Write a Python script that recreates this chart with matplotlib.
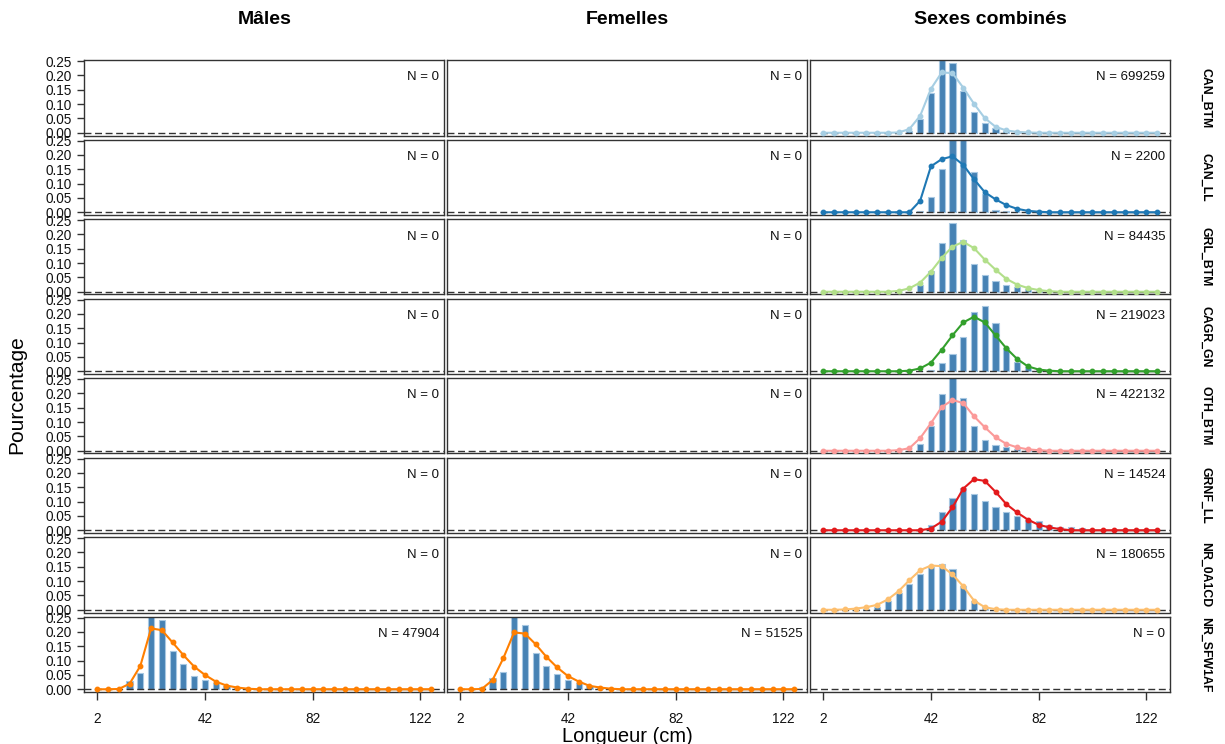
import numpy as np
import matplotlib

matplotlib.use("Agg")
import matplotlib.pyplot as plt

plt.rcParams["font.family"] = ["Liberation Sans", "DejaVu Sans"]

# length classes (cm), one bar / curve point every 4 cm
lengths = np.arange(2, 127, 4)

columns = ["Mâles", "Femelles", "Sexes combinés"]
fleets = ["CAN_BTM", "CAN_LL", "GRL_BTM", "CAGR_GN", "OTH_BTM", "GRNF_LL", "NR_0A1CD", "NR_SFW1AF"]
fleet_colors = ["#A6CEE3", "#1F78B4", "#B2DF8A", "#33A02C", "#FB9A99", "#E31A1C", "#FDBF6F", "#FF7F00"]

# sample sizes per (fleet, column)
n_males = [0, 0, 0, 0, 0, 0, 0, 47904]
n_females = [0, 0, 0, 0, 0, 0, 0, 51525]
n_combined = [699259, 2200, 84435, 219023, 422132, 14524, 180655, 0]

# observed proportions by length class (only non-zero classes listed)
can_btm_bars = {34: 0.006, 38: 0.048, 42: 0.139, 46: 0.255, 50: 0.242, 54: 0.147,
                58: 0.072, 62: 0.035, 66: 0.015, 70: 0.006, 74: 0.002}
can_btm_fit = {30: 0.001, 34: 0.013, 38: 0.059, 42: 0.153, 46: 0.21, 50: 0.208, 54: 0.157,
               58: 0.101, 62: 0.051, 66: 0.021, 70: 0.008, 74: 0.003, 78: 0.001}

can_ll_bars = {38: 0.006, 42: 0.053, 46: 0.151, 50: 0.28, 54: 0.27, 58: 0.139,
               62: 0.065, 66: 0.009, 70: 0.003}
can_ll_fit = {38: 0.04, 42: 0.16, 46: 0.185, 50: 0.195, 54: 0.165, 58: 0.115, 62: 0.07,
              66: 0.045, 70: 0.025, 74: 0.012, 78: 0.005, 82: 0.002}

grl_btm_bars = {38: 0.022, 42: 0.074, 46: 0.17, 50: 0.241, 54: 0.181, 58: 0.098, 62: 0.06,
                66: 0.039, 70: 0.025, 74: 0.016, 78: 0.011, 82: 0.004}
grl_btm_fit = {30: 0.003, 34: 0.012, 38: 0.032, 42: 0.07, 46: 0.118, 50: 0.157, 54: 0.174,
               58: 0.152, 62: 0.112, 66: 0.077, 70: 0.045, 74: 0.025, 78: 0.013, 82: 0.006,
               86: 0.002}

cagr_gn_bars = {42: 0.005, 46: 0.028, 50: 0.059, 54: 0.12, 58: 0.205, 62: 0.227, 66: 0.167,
                70: 0.08, 74: 0.034, 78: 0.016, 82: 0.006}
cagr_gn_fit = {34: 0.002, 38: 0.01, 42: 0.03, 46: 0.075, 50: 0.125, 54: 0.17, 58: 0.19,
               62: 0.17, 66: 0.125, 70: 0.08, 74: 0.043, 78: 0.017, 82: 0.006, 86: 0.002}

oth_btm_bars = {38: 0.024, 42: 0.086, 46: 0.198, 50: 0.27, 54: 0.184, 58: 0.086, 62: 0.039,
                66: 0.019, 70: 0.012, 74: 0.006, 78: 0.003}
oth_btm_fit = {30: 0.002, 34: 0.009, 38: 0.044, 42: 0.096, 46: 0.152, 50: 0.177, 54: 0.166,
               58: 0.12, 62: 0.082, 66: 0.047, 70: 0.024, 74: 0.012, 78: 0.005, 82: 0.002}

grnf_ll_bars = {42: 0.018, 46: 0.062, 50: 0.114, 54: 0.147, 58: 0.126, 62: 0.103, 66: 0.082,
                70: 0.064, 74: 0.048, 78: 0.037, 82: 0.031, 86: 0.019, 90: 0.013, 94: 0.01,
                98: 0.007}
grnf_ll_fit = {42: 0.006, 46: 0.03, 50: 0.08, 54: 0.145, 58: 0.178, 62: 0.172, 66: 0.134,
               70: 0.091, 74: 0.062, 78: 0.037, 82: 0.019, 86: 0.01, 90: 0.004}

nr_0a1cd_bars = {18: 0.003, 22: 0.01, 26: 0.03, 30: 0.057, 34: 0.09, 38: 0.123, 42: 0.148,
                 46: 0.16, 50: 0.142, 54: 0.082, 58: 0.032, 62: 0.009}
nr_0a1cd_fit = {10: 0.001, 14: 0.004, 18: 0.009, 22: 0.017, 26: 0.036, 30: 0.065, 34: 0.103,
                38: 0.138, 42: 0.154, 46: 0.152, 50: 0.123, 54: 0.082, 58: 0.032, 62: 0.009,
                66: 0.002}

sfw_male_bars = {14: 0.03, 18: 0.056, 22: 0.27, 26: 0.243, 30: 0.134, 34: 0.087, 38: 0.047,
                 42: 0.032, 46: 0.021, 50: 0.012, 54: 0.005}
sfw_male_fit = {10: 0.001, 14: 0.019, 18: 0.081, 22: 0.212, 26: 0.206, 30: 0.163, 34: 0.119,
                38: 0.079, 42: 0.05, 46: 0.027, 50: 0.013, 54: 0.006, 58: 0.002}

sfw_female_bars = {10: 0.007, 14: 0.038, 18: 0.059, 22: 0.27, 26: 0.223, 30: 0.127, 34: 0.081,
                   38: 0.053, 42: 0.032, 46: 0.021, 50: 0.012, 54: 0.005}
sfw_female_fit = {10: 0.001, 14: 0.032, 18: 0.108, 22: 0.198, 26: 0.194, 30: 0.157, 34: 0.113,
                  38: 0.076, 42: 0.046, 46: 0.027, 50: 0.012, 54: 0.006, 58: 0.002}

# (row, col) -> (observed, fitted)
panels = {
    (0, 2): (can_btm_bars, can_btm_fit),
    (1, 2): (can_ll_bars, can_ll_fit),
    (2, 2): (grl_btm_bars, grl_btm_fit),
    (3, 2): (cagr_gn_bars, cagr_gn_fit),
    (4, 2): (oth_btm_bars, oth_btm_fit),
    (5, 2): (grnf_ll_bars, grnf_ll_fit),
    (6, 2): (nr_0a1cd_bars, nr_0a1cd_fit),
    (7, 0): (sfw_male_bars, sfw_male_fit),
    (7, 1): (sfw_female_bars, sfw_female_fit),
}


def on_grid(values):
    return np.array([values.get(int(x), 0.0) for x in lengths])


W, H = 1225, 744
fig = plt.figure(figsize=(W / 100, H / 100), dpi=100)
fig.patch.set_facecolor("white")

col_left = [84.3, 447.3, 810.3]
col_w = 360.0
row_top0, row_pitch, row_h = 60.0, 79.5, 75.5
edge = "#333333"

for r, fleet in enumerate(fleets):
    for c in range(3):
        top = row_top0 + r * row_pitch
        ax = fig.add_axes([col_left[c] / W, 1 - (top + row_h) / H, col_w / W, row_h / H])
        ax.set_xlim(-2.8, 130.9)
        ax.set_ylim(-0.0095, 0.2535)
        for sp in ax.spines.values():
            sp.set_color(edge)
            sp.set_linewidth(1.0)

        if (r, c) in panels:
            bars, fit = panels[(r, c)]
            ax.bar(lengths, on_grid(bars), width=2.3, color="#4682B4",
                   edgecolor="#A8C8E2", linewidth=0.8, zorder=2)
        ax.axhline(0, color="#333333", lw=1.0, dashes=(5, 2.6), zorder=3)
        if (r, c) in panels:
            ax.plot(lengths, on_grid(fit), color=fleet_colors[r], lw=1.5,
                    marker="o", ms=3.2, zorder=4)

        n = [n_males, n_females, n_combined][c][r]
        ax.text(1 - 5 / col_w, 1 - 17.5 / row_h, f"N = {n}", transform=ax.transAxes,
                ha="right", va="center", fontsize=9.5, color="#111111")

        ax.set_yticks([0, 0.05, 0.10, 0.15, 0.20, 0.25])
        ax.set_xticks([2, 42, 82, 122])
        if c == 0:
            ax.set_yticklabels(["0.00", "0.05", "0.10", "0.15", "0.20", "0.25"])
            ax.tick_params(axis="y", length=5, width=1, color=edge, pad=4,
                           labelsize=9.8, labelcolor="#111111")
        else:
            ax.tick_params(axis="y", left=False, labelleft=False)
        if r == len(fleets) - 1:
            ax.tick_params(axis="x", length=5.5, width=1, color=edge, pad=9,
                           labelsize=9.8, labelcolor="#111111")
        else:
            ax.tick_params(axis="x", bottom=False, labelbottom=False)

        if r == 0:
            ax.set_title(columns[c], fontsize=14, fontweight="bold", pad=26)
        if c == 2:
            ax.text(1 + 35 / col_w, 0.5, fleet, transform=ax.transAxes, rotation=270,
                    ha="center", va="center", fontsize=8.8, fontweight="bold")

fig.text(627 / W, 1 - 736 / H, "Longueur (cm)", ha="center", va="center", fontsize=14.5)
fig.text(17 / W, 1 - 395 / H, "Pourcentage", ha="center", va="center", rotation=90,
         fontsize=15)

fig.savefig("out.png", dpi=100)
